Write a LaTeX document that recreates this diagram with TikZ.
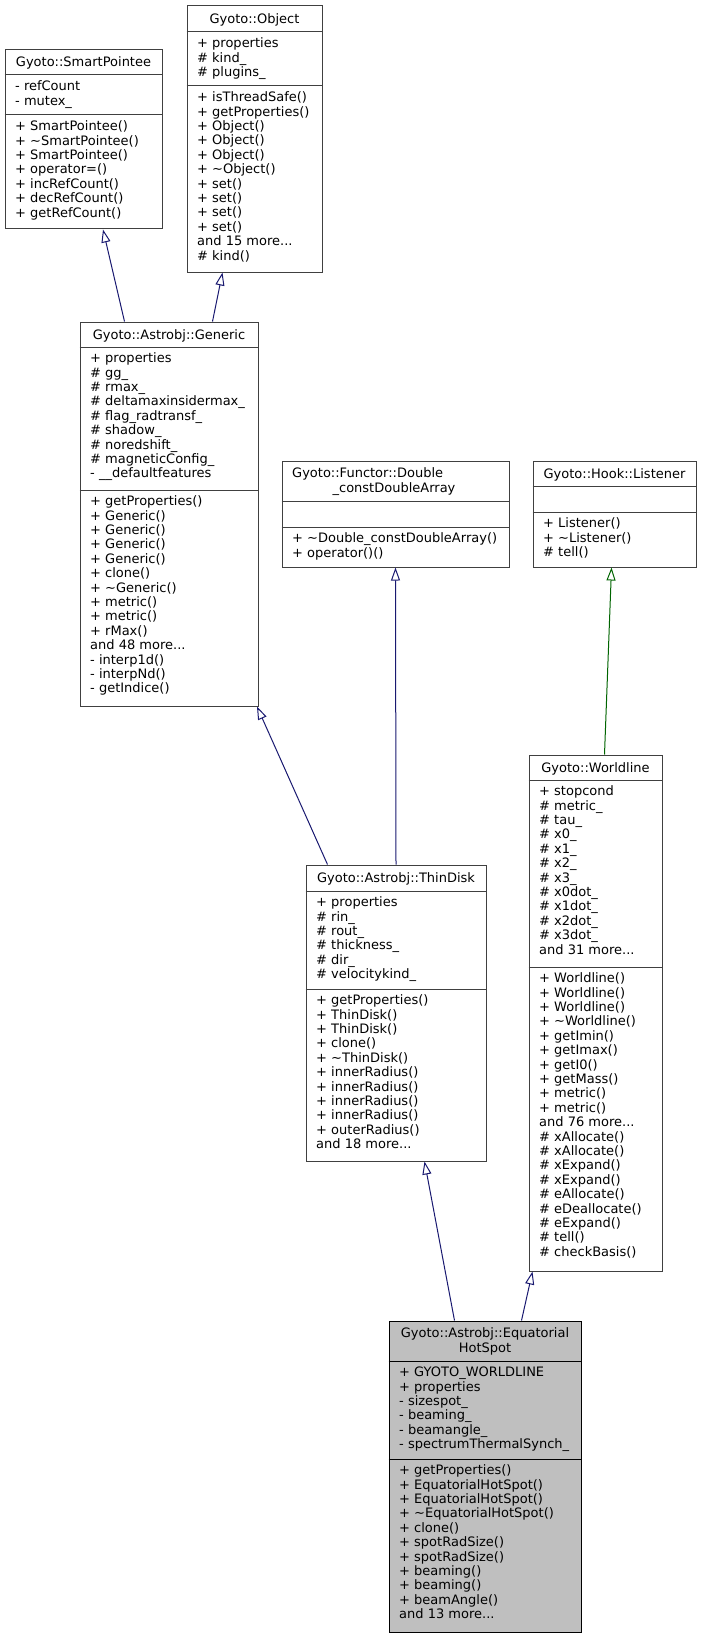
\documentclass[tikz,border=0pt]{standalone}
\usepackage{fontspec}
\setmainfont{DejaVu Sans}
\usetikzlibrary{arrows.meta,calc}
\definecolor{boxc}{HTML}{404040}
\definecolor{edgeblue}{HTML}{191970}
\definecolor{edgegreen}{HTML}{006400}
\definecolor{rootfill}{HTML}{BFBFBF}
\newcommand\tl{\textasciitilde}
\tikzset{
  classbox/.style={draw=boxc, line width=1pt, fill=white, inner sep=0pt, rectangle},
  rootbox/.style={classbox, draw=black, fill=rootfill},
  sepline/.style={draw=boxc, line width=1pt},
  rootsep/.style={draw=black, line width=1pt},
  sect/.style={anchor=north west, inner sep=0pt, align=left, font=\fontsize{13}{14.4}\selectfont},
  ttl/.style={anchor=base, inner sep=0pt, font=\fontsize{13}{14.4}\selectfont},
  ttlw/.style={anchor=base west, inner sep=0pt, font=\fontsize{13}{14.4}\selectfont},
  inh/.style={draw=edgeblue, line width=1pt, -{Triangle[open, length=13pt, width=9pt]}},
  inhg/.style={inh, draw=edgegreen},
}
\begin{document}
\begin{tikzpicture}[x=1pt, y=-1pt]
\useasboundingbox (0,0) rectangle (701,1637);

% ---------- Gyoto::SmartPointee (5,50)-(162,229)
\node[classbox, minimum width=157pt, minimum height=179pt] (sp) at (83.5,139.5) {};
\draw[sepline] (sp.west |- 0,75) -- (sp.east |- 0,75);
\draw[sepline] (sp.west |- 0,115) -- (sp.east |- 0,115);
\node[ttl] (sp-t) at (83.5,67) {Gyoto::SmartPointee};
\node[sect] (sp-a) at (15,80.4) {\strut- refCount\\- mutex\_};
\node[sect] (sp-m) at (15,120.4) {\strut+ SmartPointee()\\+ \tl SmartPointee()\\+ SmartPointee()\\+ operator=()\\+ incRefCount()\\+ decRefCount()\\+ getRefCount()};

% ---------- Gyoto::Object (187,6)-(322,272)
\node[classbox, minimum width=135pt, minimum height=266pt] (obj) at (254.5,139) {};
\draw[sepline] (obj.west |- 0,32) -- (obj.east |- 0,32);
\draw[sepline] (obj.west |- 0,86) -- (obj.east |- 0,86);
\node[ttl] (obj-t) at (254.5,23.5) {Gyoto::Object};
\node[sect] (obj-a) at (197,37.4) {\strut+ properties\\\# kind\_\\\# plugins\_};
\node[sect] (obj-m) at (197,91.4) {\strut+ isThreadSafe()\\+ getProperties()\\+ Object()\\+ Object()\\+ Object()\\+ \tl Object()\\+ set()\\+ set()\\+ set()\\+ set()\\and 15 more...\\\# kind()};

% ---------- Gyoto::Astrobj::Generic (80,322)-(258,706)
\node[classbox, minimum width=178pt, minimum height=384pt] (gen) at (169,514) {};
\draw[sepline] (gen.west |- 0,347) -- (gen.east |- 0,347);
\draw[sepline] (gen.west |- 0,490) -- (gen.east |- 0,490);
\node[ttl] (gen-t) at (169,339) {Gyoto::Astrobj::Generic};
\node[sect] (gen-a) at (90,352.4) {\strut+ properties\\\# gg\_\\\# rmax\_\\\# deltamaxinsidermax\_\\\# flag\_radtransf\_\\\# shadow\_\\\# noredshift\_\\\# magneticConfig\_\\- \_\_defaultfeatures};
\node[sect] (gen-m) at (90,495.4) {\strut+ getProperties()\\+ Generic()\\+ Generic()\\+ Generic()\\+ Generic()\\+ clone()\\+ \tl Generic()\\+ metric()\\+ metric()\\+ rMax()\\and 48 more...\\- interp1d()\\- interpNd()\\- getIndice()};

% ---------- Gyoto::Functor::Double_constDoubleArray (282,461)-(509,567)
\node[classbox, minimum width=227pt, minimum height=106pt] (fun) at (395.5,514) {};
\draw[sepline] (fun.west |- 0,501) -- (fun.east |- 0,501);
\draw[sepline] (fun.west |- 0,527) -- (fun.east |- 0,527);
\node[ttlw] (fun-t1) at (292,477) {Gyoto::Functor::Double};
\node[ttl] (fun-t2) at (394,492) {\_constDoubleArray};
\node[sect] (fun-m) at (292,532.4) {\strut+ \tl Double\_constDoubleArray()\\+ operator()()};

% ---------- Gyoto::Hook::Listener (533,461)-(696,567)
\node[classbox, minimum width=163pt, minimum height=106pt] (lis) at (614.5,514) {};
\draw[sepline] (lis.west |- 0,486) -- (lis.east |- 0,486);
\draw[sepline] (lis.west |- 0,512) -- (lis.east |- 0,512);
\node[ttl] (lis-t) at (614.5,478) {Gyoto::Hook::Listener};
\node[sect] (lis-m) at (543,517.4) {\strut+ Listener()\\+ \tl Listener()\\\# tell()};

% ---------- Gyoto::Astrobj::ThinDisk (306,865)-(486,1161)
\node[classbox, minimum width=180pt, minimum height=296pt] (thin) at (396,1013) {};
\draw[sepline] (thin.west |- 0,891) -- (thin.east |- 0,891);
\draw[sepline] (thin.west |- 0,989) -- (thin.east |- 0,989);
\node[ttl] (thin-t) at (396,882) {Gyoto::Astrobj::ThinDisk};
\node[sect] (thin-a) at (316,896.4) {\strut+ properties\\\# rin\_\\\# rout\_\\\# thickness\_\\\# dir\_\\\# velocitykind\_};
\node[sect] (thin-m) at (316,994.4) {\strut+ getProperties()\\+ ThinDisk()\\+ ThinDisk()\\+ clone()\\+ \tl ThinDisk()\\+ innerRadius()\\+ innerRadius()\\+ innerRadius()\\+ innerRadius()\\+ outerRadius()\\and 18 more...};

% ---------- Gyoto::Worldline (529,755)-(662,1271)
\node[classbox, minimum width=133pt, minimum height=516pt] (wl) at (595.5,1013) {};
\draw[sepline] (wl.west |- 0,780) -- (wl.east |- 0,780);
\draw[sepline] (wl.west |- 0,967) -- (wl.east |- 0,967);
\node[ttl] (wl-t) at (595.5,772) {Gyoto::Worldline};
\node[sect] (wl-a) at (539,785.4) {\strut+ stopcond\\\# metric\_\\\# tau\_\\\# x0\_\\\# x1\_\\\# x2\_\\\# x3\_\\\# x0dot\_\\\# x1dot\_\\\# x2dot\_\\\# x3dot\_\\and 31 more...};
\node[sect] (wl-m) at (539,972.4) {\strut+ Worldline()\\+ Worldline()\\+ Worldline()\\+ \tl Worldline()\\+ getImin()\\+ getImax()\\+ getI0()\\+ getMass()\\+ metric()\\+ metric()\\and 76 more...\\\# xAllocate()\\\# xAllocate()\\\# xExpand()\\\# xExpand()\\\# eAllocate()\\\# eDeallocate()\\\# eExpand()\\\# tell()\\\# checkBasis()};

% ---------- Gyoto::Astrobj::EquatorialHotSpot (389,1321)-(581,1632)
\node[rootbox, minimum width=192pt, minimum height=311pt] (hs) at (485,1476.5) {};
\draw[rootsep] (hs.west |- 0,1361) -- (hs.east |- 0,1361);
\draw[rootsep] (hs.west |- 0,1459) -- (hs.east |- 0,1459);
\node[ttl] (hs-t1) at (485,1337.5) {Gyoto::Astrobj::Equatorial};
\node[ttl] (hs-t2) at (485,1352) {HotSpot};
\node[sect] (hs-a) at (399,1366.4) {\strut+ GYOTO\_WORLDLINE\\+ properties\\- sizespot\_\\- beaming\_\\- beamangle\_\\- spectrumThermalSynch\_};
\node[sect] (hs-m) at (399,1464.4) {\strut+ getProperties()\\+ EquatorialHotSpot()\\+ EquatorialHotSpot()\\+ \tl EquatorialHotSpot()\\+ clone()\\+ spotRadSize()\\+ spotRadSize()\\+ beaming()\\+ beaming()\\+ beamAngle()\\and 13 more...};

% ---------- inheritance connectors
\draw[inh] ($(gen.north west)+(45,0)$) -- ($(sp.south west)+(98.5,0)$);
\draw[inh] ($(gen.north west)+(133,0)$) -- ($(obj.south west)+(36,0)$);
\draw[inh] ($(thin.north west)+(22,0)$) -- ($(gen.south east)+(-1.5,0)$);
\draw[inh] (thin.north) -- (fun.south);
\draw[inhg] ($(wl.north west)+(76,0)$) -- ($(lis.south west)+(79,0)$);
\draw[inh] ($(hs.north west)+(66,0)$) -- ($(thin.south west)+(119,0)$);
\draw[inh] ($(hs.north west)+(133,0)$) -- ($(wl.south west)+(4,0)$);
\end{tikzpicture}
\end{document}
